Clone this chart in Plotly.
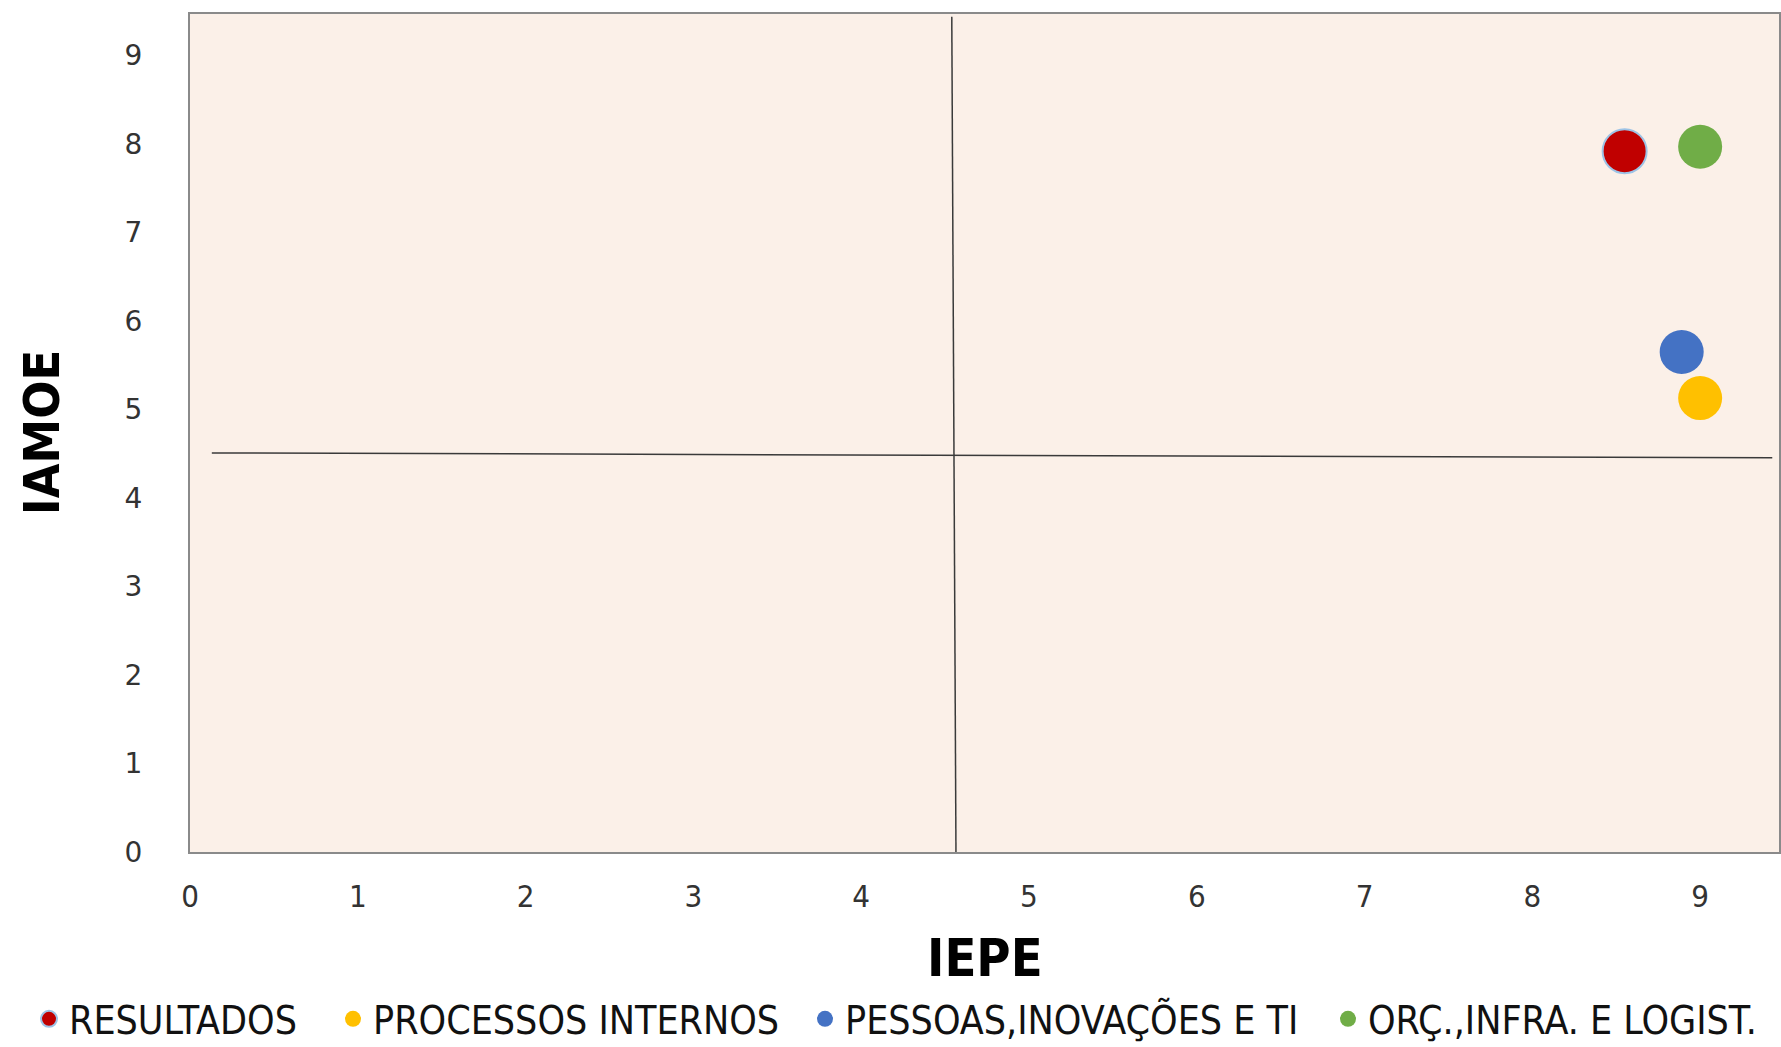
import plotly.graph_objects as go

# Dimension scores (IEPE on x, IAMOE on y)
categories = ["RESULTADOS", "PROCESSOS INTERNOS", "PESSOAS,INOVAÇÕES E TI", "ORÇ.,INFRA. E LOGIST."]
iepe = [8.55, 9.0, 8.89, 9.0]
iamoe = [7.92, 5.13, 5.65, 7.97]
colors = ["#C00000", "#FFC000", "#4472C4", "#70AD47"]
outline = ["#9DC3E6", "#FFC000", "#4472C4", "#70AD47"]

# Quadrant divider lines (slightly hand-drawn in the original layout)
vline_x = [4.54, 4.565]
vline_y = [9.44, -0.03]
hline_x = [0.13, 9.43]
hline_y = [4.51, 4.455]

x_ticks = list(range(0, 10))
y_ticks = list(range(0, 10))

# Left edge (container fraction) of each legend entry along the bottom row
legend_left = [29 / 1781, 333 / 1781, 805 / 1781, 1328 / 1781]
legend_ids = ["legend", "legend2", "legend3", "legend4"]

fig = go.Figure()

for name, x, y, c, oc, lid in zip(categories, iepe, iamoe, colors, outline, legend_ids):
    fig.add_trace(go.Scatter(
        x=[x], y=[y], mode="markers", name=name, legend=lid,
        marker=dict(size=44, color=c, line=dict(color=oc, width=2 if oc != c else 0)),
    ))

fig.add_shape(type="line", xref="x", yref="y", x0=vline_x[0], y0=vline_y[0], x1=vline_x[1], y1=vline_y[1],
              line=dict(color="#3a3a3a", width=1.5))
fig.add_shape(type="line", xref="x", yref="y", x0=hline_x[0], y0=hline_y[0], x1=hline_x[1], y1=hline_y[1],
              line=dict(color="#3a3a3a", width=1.5))

fig.add_annotation(text="<b>IEPE</b>", xref="paper", yref="paper", x=0.5, y=0, yshift=-106,
                   xanchor="center", yanchor="middle", showarrow=False,
                   font=dict(family="DejaVu Sans Condensed", size=52, color="#000"))
fig.add_annotation(text="<b>IAMOE</b>", xref="paper", yref="paper", x=0, y=0.5, xshift=-148,
                   xanchor="center", yanchor="middle", showarrow=False, textangle=-90,
                   font=dict(family="DejaVu Sans Condensed", size=50, color="#000"))

legend_style = dict(orientation="h", xref="container", yref="container", y=1 - 1019 / 1047,
                    xanchor="left", yanchor="middle",
                    font=dict(family="DejaVu Sans Condensed", size=39, color="#111"),
                    itemsizing="trace", bgcolor="rgba(0,0,0,0)")

layout_legends = {lid: dict(x=lx, **legend_style) for lid, lx in zip(legend_ids, legend_left)}

fig.update_layout(
    width=1781, height=1047,
    margin=dict(l=190, r=0, t=14, b=195),
    paper_bgcolor="white",
    plot_bgcolor="#FBF0E8",
    showlegend=True,
    xaxis=dict(range=[0, 9.47], tickvals=x_ticks, showgrid=False, zeroline=False,
               showline=True, linecolor="#8a8a8a", linewidth=2, mirror=True,
               ticks="", ticklabelstandoff=16,
               tickfont=dict(family="DejaVu Sans Condensed", size=31, color="#333")),
    yaxis=dict(range=[0, 9.47], tickvals=y_ticks, showgrid=False, zeroline=False,
               showline=True, linecolor="#8a8a8a", linewidth=2, mirror=True,
               ticks="", ticklabelstandoff=40,
               tickfont=dict(family="DejaVu Sans", size=28, color="#333")),
    **layout_legends,
)

fig.write_html("out.html")
